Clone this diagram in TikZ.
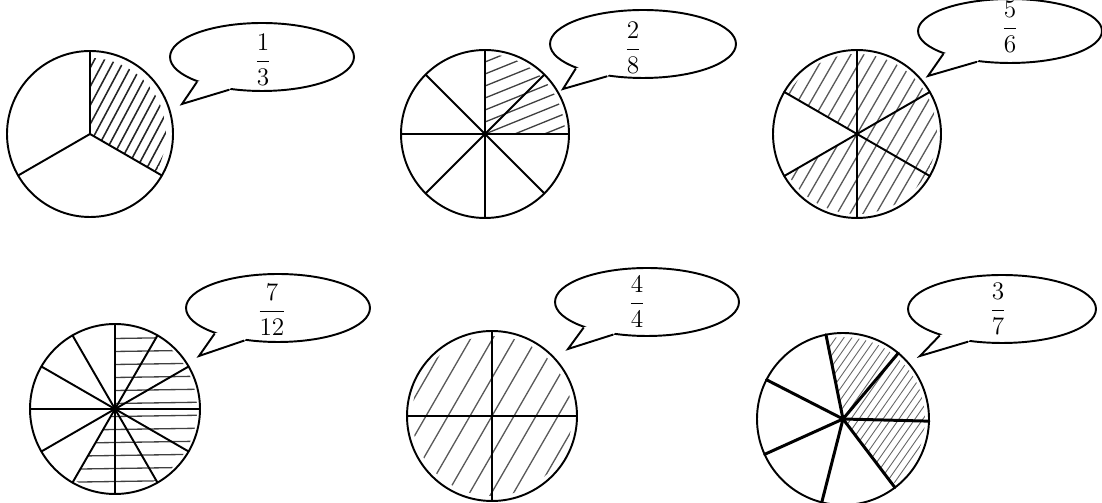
\documentclass[tikz,border=0pt]{standalone}
\usepackage{amsmath}
\usetikzlibrary{shapes.geometric}
\tikzset{
  pie/.style={line width=1.1pt, line cap=round},
  hatch/.style={line width=0.75pt, black!75, line cap=round},
  bubble/.style={ellipse, draw, line width=1.1pt, minimum width=3.68cm, minimum height=1.36cm, inner sep=0pt},
  tail/.style={line width=1.1pt, line join=miter},
  fractext/.style={font=\Large, inner sep=0pt}
}
\begin{document}
\begin{tikzpicture}[x=0.02cm, y=0.02cm]
  % 1 px = 0.02cm, 画布 1102 x 503
  \useasboundingbox (0,0) rectangle (1102,503);

  % === 上排左：1/3 ===
  \begin{scope}[shift={(90,369)}]
    \begin{scope}
      \clip (0,0) -- (-30:76) arc[start angle=-30, end angle=90, radius=76] -- cycle;
      \foreach \k in {-10,...,10}
        \draw[hatch, black!85, line width=0.9pt] ({\k*10+5-100*cos(62)},{-100*sin(62)}) -- ({\k*10+5+100*cos(62)},{100*sin(62)});
    \end{scope}
    \draw[pie] (0,0) circle (83);
    \foreach \a in {90,210,330} \draw[pie] (0,0) -- (\a:83);
  \end{scope}

  % === 上排中：2/8 ===
  \begin{scope}[shift={(485,369)}]
    \begin{scope}
      \clip (0,0) -- (0:80) arc[start angle=0, end angle=90, radius=80] -- cycle;
      \foreach \k in {-8,...,8}
        \draw[hatch] (-100,{\k*12-100*tan(22)}) -- (100,{\k*12+100*tan(22)});
    \end{scope}
    \draw[pie] (0,0) circle (84);
    \foreach \a in {0,45,...,315} \draw[pie] (0,0) -- (\a:84);
    \fill (0,0) circle (1.3pt);
  \end{scope}

  % === 上排右：5/6 ===
  \begin{scope}[shift={(857,369)}]
    \begin{scope}
      \clip (0,0) -- (210:80) arc[start angle=210, end angle=510, radius=80] -- cycle;
      \foreach \k in {-12,...,12}
        \draw[hatch, black!65] ({\k*13-100*cos(60)},{-100*sin(60)}) -- ({\k*13+100*cos(60)},{100*sin(60)});
    \end{scope}
    \draw[pie] (0,0) circle (84);
    \foreach \a in {30,90,...,330} \draw[pie] (0,0) -- (\a:84);
  \end{scope}

  % === 下排左：7/12 ===
  \begin{scope}[shift={(115,94)}]
    \begin{scope}
      \clip (0,0) -- (-120:82) arc[start angle=-120, end angle=90, radius=82] -- cycle;
      \foreach \k in {-7,...,7}
        \draw[hatch] (-100,{\k*13+4}) -- (100,{\k*13+7});
    \end{scope}
    \draw[pie] (0,0) circle (85);
    \foreach \a in {0,30,...,330} \draw[pie] (0,0) -- (\a:85);
    \fill (0,0) circle (1.8pt);
  \end{scope}

  % === 下排中：4/4 ===
  \begin{scope}[shift={(492,87)}]
    \begin{scope}
      \clip (0,0) circle (80);
      \foreach \k in {-7,...,7}
        \draw[hatch, black!65] ({\k*22-100*cos(60)},{-100*sin(60)}) -- ({\k*22+100*cos(60)},{100*sin(60)});
    \end{scope}
    \draw[pie] (0,0) circle (85);
    \foreach \a in {0,90,180,270} \draw[pie] (0,0) -- (\a:85);
  \end{scope}

  % === 下排右：3/7 (粗线) ===
  \begin{scope}[shift={(843,84)}]
    \begin{scope}
      \clip (0,0) -- (-52.86:82) arc[start angle=-52.86, end angle=101.43, radius=82] -- cycle;
      \foreach \k in {-20,...,20}
        \draw[hatch, line width=0.5pt, black!60] ({\k*8-100*cos(55)},{-100*sin(55)}) -- ({\k*8+100*cos(55)},{100*sin(55)});
    \end{scope}
    \draw[pie] (0,0) circle (86);
    \foreach \k in {0,...,6} \draw[pie, line width=1.7pt] (0,0) -- ({101.43-\k*51.43}:86);
    \fill (0,0) circle (1.8pt);
  \end{scope}

  % === 对话气泡 ===
  \node[bubble] (bub1) at (262,446) {};
  \coordinate (tip1) at (182,399);
  \fill[white] (bub1.center) -- (bub1.201) -- (tip1) -- (bub1.225) -- cycle;
  \draw[tail] (bub1.201) -- (tip1) -- (bub1.225);
  \node[fractext] (frac1) at (263,443) {$\dfrac{1}{3}$};

  \node[bubble, minimum width=3.72cm] (bub2) at (643,459) {};
  \coordinate (tip2) at (563,414);
  \fill[white] (bub2.center) -- (bub2.200) -- (tip2) -- (bub2.222) -- cycle;
  \draw[tail] (bub2.200) -- (tip2) -- (bub2.222);
  \node[fractext] (frac2) at (633,455) {$\dfrac{2}{8}$};

  \node[bubble, minimum height=1.28cm] (bub3) at (1010,472) {};
  \coordinate (tip3) at (928,427);
  \fill[white] (bub3.center) -- (bub3.199) -- (tip3) -- (bub3.223) -- cycle;
  \draw[tail] (bub3.199) -- (tip3) -- (bub3.223);
  \node[fractext] (frac3) at (1010,476) {$\dfrac{5}{6}$};

  \node[bubble] (bub4) at (278,195) {};
  \coordinate (tip4) at (199,147);
  \fill[white] (bub4.center) -- (bub4.202) -- (tip4) -- (bub4.224) -- cycle;
  \draw[tail] (bub4.202) -- (tip4) -- (bub4.224);
  \node[fractext] (frac4) at (272,193) {$\dfrac{7}{12}$};

  \node[bubble] (bub5) at (647,201) {};
  \coordinate (tip5) at (568,154);
  \fill[white] (bub5.center) -- (bub5.202) -- (tip5) -- (bub5.224) -- cycle;
  \draw[tail] (bub5.202) -- (tip5) -- (bub5.224);
  \node[fractext] (frac5) at (637,201) {$\dfrac{4}{4}$};

  \node[bubble, minimum width=3.76cm] (bub6) at (1002,194) {};
  \coordinate (tip6) at (920,147);
  \fill[white] (bub6.center) -- (bub6.203) -- (tip6) -- (bub6.224) -- cycle;
  \draw[tail] (bub6.203) -- (tip6) -- (bub6.224);
  \node[fractext] (frac6) at (998,194) {$\dfrac{3}{7}$};
\end{tikzpicture}
\end{document}
